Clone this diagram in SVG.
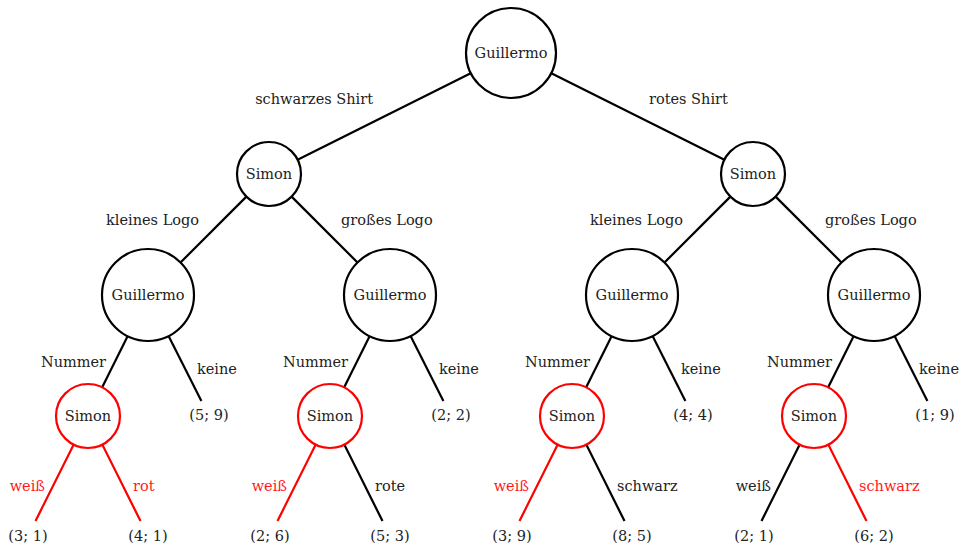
<svg xmlns="http://www.w3.org/2000/svg" width="961" height="548" viewBox="0 0 961 548">
<style>
text{font-size:14.5px;fill:#222}
.c{text-anchor:middle}.e{text-anchor:end}.s{text-anchor:start}
.r{fill:#ff1a1a}
circle{fill:#fff;stroke:#000;stroke-width:2.2}
circle.red{stroke:#ff0000}
line{stroke:#000;stroke-width:2.2}
line.red{stroke:#ff0000}
</style>
<rect width="961" height="548" fill="#fff"/>
<g id="connectors">
<line x1="470.7" y1="73.3" x2="297.6" y2="159.7"/>
<line x1="551.3" y1="73.3" x2="724.4" y2="159.7"/>
<line x1="246.4" y1="196.6" x2="180.5" y2="262.5"/>
<line x1="291.6" y1="196.6" x2="357.5" y2="262.5"/>
<line x1="730.4" y1="196.6" x2="664.5" y2="262.5"/>
<line x1="775.6" y1="196.6" x2="841.5" y2="262.5"/>
<line x1="127.6" y1="336.2" x2="102.2" y2="387.3"/>
<line x1="168.7" y1="336.2" x2="201.4" y2="401"/>
<line x1="369.6" y1="336.2" x2="344.2" y2="387.3"/>
<line x1="410.7" y1="336.2" x2="443.4" y2="401"/>
<line x1="611.6" y1="336.2" x2="586.2" y2="387.3"/>
<line x1="652.7" y1="336.2" x2="685.4" y2="401"/>
<line x1="853.6" y1="336.2" x2="828.2" y2="387.3"/>
<line x1="894.7" y1="336.2" x2="927.4" y2="401"/>
<line class="red" x1="73.7" y1="444.6" x2="35.5" y2="521"/>
<line class="red" x1="102.3" y1="444.6" x2="140.5" y2="521"/>
<line class="red" x1="315.7" y1="444.6" x2="277.5" y2="521"/>
<line x1="344.3" y1="444.6" x2="382.5" y2="521"/>
<line class="red" x1="557.7" y1="444.6" x2="519.5" y2="521"/>
<line x1="586.3" y1="444.6" x2="624.5" y2="521"/>
<line x1="799.7" y1="444.6" x2="761.5" y2="521"/>
<line class="red" x1="828.3" y1="444.6" x2="866.5" y2="521"/>
</g>
<g font-family="DejaVu Serif, serif">
<g id="edge-labels">
<text class="e" x="373" y="104">schwarzes Shirt</text>
<text class="s" x="649" y="104">rotes Shirt</text>
<text class="e" x="199" y="225">kleines Logo</text>
<text class="s" x="341" y="225">großes Logo</text>
<text class="e" x="683" y="225">kleines Logo</text>
<text class="s" x="825" y="225">großes Logo</text>
<text class="e" x="106" y="367">Nummer</text>
<text class="s" x="197" y="374">keine</text>
<text class="e" x="348" y="367">Nummer</text>
<text class="s" x="439" y="374">keine</text>
<text class="e" x="590" y="367">Nummer</text>
<text class="s" x="681" y="374">keine</text>
<text class="e" x="832" y="367">Nummer</text>
<text class="e" x="959" y="374">keine</text>
<text class="e r" x="45" y="491">weiß</text>
<text class="s r" x="133" y="491">rot</text>
<text class="e r" x="287" y="491">weiß</text>
<text class="s" x="375" y="491">rote</text>
<text class="e r" x="529" y="491">weiß</text>
<text class="s" x="617" y="491">schwarz</text>
<text class="e" x="771" y="491">weiß</text>
<text class="s r" x="859" y="491">schwarz</text>
</g>
<g id="root"><circle cx="511" cy="53" r="45"/><text class="c" x="511" y="58">Guillermo</text></g>
<g id="simon-l"><circle cx="269" cy="174" r="32"/><text class="c" x="269" y="179">Simon</text></g>
<g id="simon-r"><circle cx="753" cy="174" r="32"/><text class="c" x="753" y="179">Simon</text></g>
<g id="g1"><circle cx="148" cy="295" r="46"/><text class="c" x="148" y="300">Guillermo</text></g>
<g id="g2"><circle cx="390" cy="295" r="46"/><text class="c" x="390" y="300">Guillermo</text></g>
<g id="g3"><circle cx="632" cy="295" r="46"/><text class="c" x="632" y="300">Guillermo</text></g>
<g id="g4"><circle cx="874" cy="295" r="46"/><text class="c" x="874" y="300">Guillermo</text></g>
<g id="s1"><circle class="red" cx="88" cy="416" r="32"/><text class="c" x="88" y="421">Simon</text></g>
<g id="s2"><circle class="red" cx="330" cy="416" r="32"/><text class="c" x="330" y="421">Simon</text></g>
<g id="s3"><circle class="red" cx="572" cy="416" r="32"/><text class="c" x="572" y="421">Simon</text></g>
<g id="s4"><circle class="red" cx="814" cy="416" r="32"/><text class="c" x="814" y="421">Simon</text></g>
<g id="t1"><text class="c" x="209" y="420">(5; 9)</text></g>
<g id="t2"><text class="c" x="451" y="420">(2; 2)</text></g>
<g id="t3"><text class="c" x="693" y="420">(4; 4)</text></g>
<g id="t4"><text class="c" x="935" y="420">(1; 9)</text></g>
<g id="l1"><text class="c" x="28" y="541">(3; 1)</text></g>
<g id="l2"><text class="c" x="148" y="541">(4; 1)</text></g>
<g id="l3"><text class="c" x="270" y="541">(2; 6)</text></g>
<g id="l4"><text class="c" x="390" y="541">(5; 3)</text></g>
<g id="l5"><text class="c" x="512" y="541">(3; 9)</text></g>
<g id="l6"><text class="c" x="632" y="541">(8; 5)</text></g>
<g id="l7"><text class="c" x="754" y="541">(2; 1)</text></g>
<g id="l8"><text class="c" x="874" y="541">(6; 2)</text></g>
</g>
</svg>
